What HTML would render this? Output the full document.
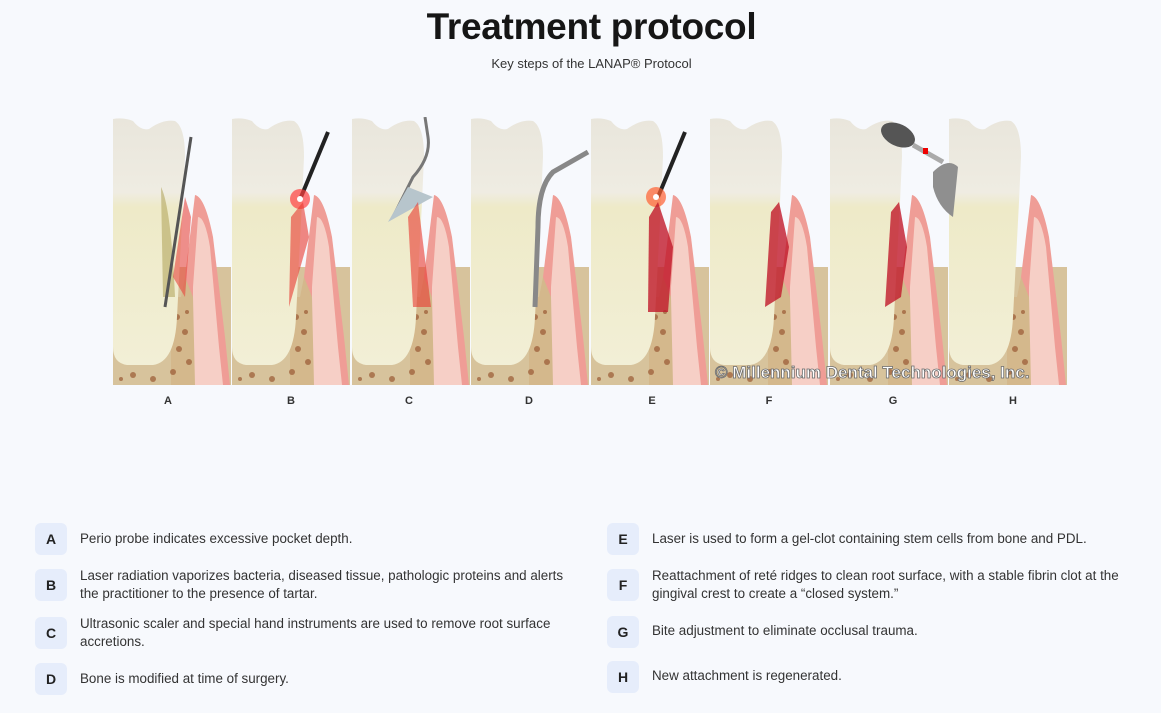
<!DOCTYPE html>
<html><head><meta charset="utf-8"><style>
body{margin:0;width:1161px;height:713px;background:#f7f9fd;font-family:"Liberation Sans",sans-serif;position:relative;overflow:hidden;color:#333}
h1{position:absolute;top:6px;left:0;width:1183px;text-align:center;margin:0;font-size:37px;font-weight:bold;color:#161616;letter-spacing:-0.3px}
.sub{position:absolute;top:56px;left:0;width:1183px;text-align:center;font-size:13px;color:#333}
.lbl{position:absolute;top:395px;font-size:11px;font-weight:bold;color:#333;width:20px;text-align:center}
.b{position:absolute;width:32px;height:32px;border-radius:6px;background:#e6edfb;font-weight:bold;font-size:14px;color:#222;text-align:center;line-height:32px}
.t{position:absolute;font-size:13.4px;line-height:18px;color:#333}
</style></head><body>
<h1>Treatment protocol</h1>
<div class="sub">Key steps of the LANAP® Protocol</div>
<svg style="position:absolute;left:113px;top:117px" width="954" height="268" viewBox="0 0 954 268">
<defs>
<linearGradient id="tg" x1="0" y1="0" x2="0" y2="1"><stop offset="0" stop-color="#e9e6dc"/><stop offset="0.3" stop-color="#efece2"/><stop offset="0.36" stop-color="#eeeac8"/><stop offset="1" stop-color="#f2efd6"/></linearGradient>
<g id="p">
<rect x="0" y="150" width="118" height="118" fill="#d7c39c"/>
<path d="M72,268 L72,160 L82,78 Q92,80 100,120 L112,220 L117,268 Z" fill="#ef9d96"/>
<path d="M80,268 L80,170 L85,100 Q92,100 97,130 L106,230 L110,268 Z" fill="#f6cfc6"/>
<path d="M58,268 L58,180 L68,180 L72,160 L80,180 L82,268 Z" fill="#d4b88c"/>
<g fill="#9a5a34" opacity=".7"><circle cx="64" cy="200" r="3"/><circle cx="72" cy="215" r="3"/><circle cx="66" cy="232" r="3"/><circle cx="76" cy="245" r="3"/><circle cx="60" cy="255" r="3"/><circle cx="20" cy="258" r="3"/><circle cx="40" cy="262" r="3"/><circle cx="8" cy="262" r="2"/><circle cx="74" cy="195" r="2"/></g>
<path d="M0,2 Q10,0 20,4 Q28,14 36,12 Q50,2 62,4 Q72,10 72,40 L70,85 L64,200 Q62,245 40,248 L14,248 Q0,246 0,230 Z" fill="url(#tg)"/>
</g>
</defs>
<use href="#p" x="0"/><use href="#p" x="119"/><use href="#p" x="239"/><use href="#p" x="358"/><use href="#p" x="478"/><use href="#p" x="597"/><use href="#p" x="717"/><use href="#p" x="836"/>
<path d="M48,70 Q58,90 62,180 L50,180 Z" fill="#a89a4a" opacity=".5"/>
<line x1="78" y1="20" x2="52" y2="190" stroke="#555" stroke-width="3"/>
<path d="M60,160 L72,80 L78,100 L72,180 Z" fill="#e8463e" opacity=".6"/>
<line x1="215" y1="15" x2="188" y2="80" stroke="#222" stroke-width="4"/>
<circle cx="187" cy="82" r="10" fill="#ff4040" opacity=".7"/><circle cx="187" cy="82" r="3" fill="#fff"/>
<path d="M178,100 L190,85 L196,120 L176,190 Z" fill="#e83830" opacity=".6"/>
<path d="M312,0 L315,20 Q318,40 300,60 L280,100" stroke="#777" stroke-width="3" fill="none"/>
<path d="M275,105 L295,70 L320,80 Z" fill="#b7c5cc"/>
<path d="M295,100 L305,85 L318,190 L300,190 Z" fill="#e83830" opacity=".6"/>
<path d="M475,35 L440,55 Q425,70 425,110 L422,190" stroke="#888" stroke-width="5" fill="none"/>
<line x1="572" y1="15" x2="545" y2="80" stroke="#222" stroke-width="4"/>
<circle cx="543" cy="80" r="10" fill="#ff6030" opacity=".7"/><circle cx="543" cy="80" r="3" fill="#fff"/>
<path d="M536,100 L545,85 L560,130 L555,195 L535,195 Z" fill="#c0192a" opacity=".8"/>
<path d="M658,95 L666,85 L676,130 L668,180 L652,190 Z" fill="#c0192a" opacity=".8"/>
<path d="M778,95 L786,85 L794,130 L788,180 L772,190 Z" fill="#c0192a" opacity=".8"/>
<ellipse cx="785" cy="18" rx="18" ry="11" fill="#555" transform="rotate(25 785 18)"/>
<line x1="800" y1="28" x2="830" y2="45" stroke="#aaa" stroke-width="5"/>
<rect x="810" y="31" width="5" height="6" fill="#e00"/>
<path d="M820,55 Q835,40 845,50 L840,100 Q825,90 820,70 Z" fill="#8f8f8f"/>
<text x="602" y="261" font-family="Liberation Sans,sans-serif" font-size="17" font-weight="bold" fill="#fff" stroke="#6b6b6b" stroke-width="0.8">© Millennium Dental Technologies, Inc.</text>
</svg>
<div class="lbl" style="left:158px">A</div><div class="lbl" style="left:281px">B</div><div class="lbl" style="left:399px">C</div><div class="lbl" style="left:519px">D</div><div class="lbl" style="left:642px">E</div><div class="lbl" style="left:759px">F</div><div class="lbl" style="left:883px">G</div><div class="lbl" style="left:1003px">H</div>

<div class="b" style="left:35px;top:523px">A</div><div class="t" style="left:80px;top:530px">Perio probe indicates excessive pocket depth.</div>
<div class="b" style="left:35px;top:569px">B</div><div class="t" style="left:80px;top:567px;width:495px">Laser radiation vaporizes bacteria, diseased tissue, pathologic proteins and alerts the practitioner to the presence of tartar.</div>
<div class="b" style="left:35px;top:617px">C</div><div class="t" style="left:80px;top:615px;width:485px">Ultrasonic scaler and special hand instruments are used to remove root surface accretions.</div>
<div class="b" style="left:35px;top:663px">D</div><div class="t" style="left:80px;top:670px">Bone is modified at time of surgery.</div>
<div class="b" style="left:607px;top:523px">E</div><div class="t" style="left:652px;top:530px">Laser is used to form a gel-clot containing stem cells from bone and PDL.</div>
<div class="b" style="left:607px;top:569px">F</div><div class="t" style="left:652px;top:567px;width:490px">Reattachment of reté ridges to clean root surface, with a stable fibrin clot at the gingival crest to create a “closed system.”</div>
<div class="b" style="left:607px;top:616px">G</div><div class="t" style="left:652px;top:622px">Bite adjustment to eliminate occlusal trauma.</div>
<div class="b" style="left:607px;top:661px">H</div><div class="t" style="left:652px;top:667px">New attachment is regenerated.</div>
</body></html>
